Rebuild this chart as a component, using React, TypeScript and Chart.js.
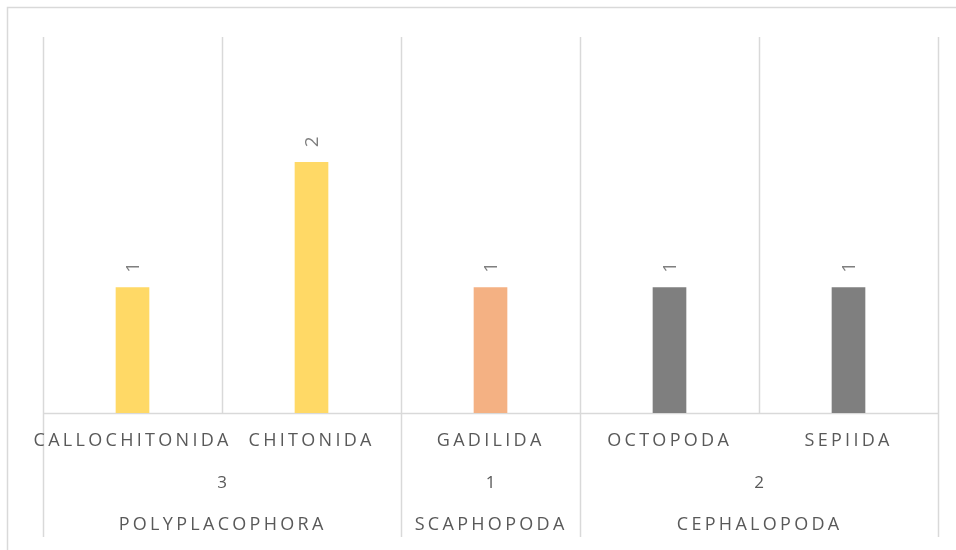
import React, { useEffect, useRef } from "react";
import { Chart, registerables } from "chart.js";

Chart.register(...registerables);

const orders = ["CALLOCHITONIDA", "CHITONIDA", "GADILIDA", "OCTOPODA", "SEPIIDA"];
const counts = [1, 2, 1, 1, 1];
const classNames = ["POLYPLACOPHORA", "SCAPHOPODA", "CEPHALOPODA"];
const classTotals = ["3", "1", "2"];
const classSizes = [2, 1, 2];
const classColors = ["#FFD966", "#F4B183", "#7F7F7F"];

const W = 956;
const H = 550;

export default function App() {
  const ref = useRef<HTMLCanvasElement | null>(null);

  useEffect(() => {
    document.documentElement.style.overflow = "hidden";
    const canvas = ref.current!;
    const barColors: string[] = [];
    classSizes.forEach((n, gi) => {
      for (let k = 0; k < n; k++) barColors.push(classColors[gi]);
    });

    const gridColor = "#d9d9d9";
    const textColor = "#595959";
    const font = '"Open Sans", sans-serif';
    const spacing = 3.3;

    const decor = {
      id: "decor",
      beforeDraw(chart: any) {
        const ctx = chart.ctx as CanvasRenderingContext2D;
        const area = chart.chartArea;
        const xs = chart.scales.x;
        ctx.save();
        ctx.fillStyle = "#ffffff";
        ctx.fillRect(0, 0, W, H);
        // outer border (top & left visible)
        ctx.strokeStyle = gridColor;
        ctx.lineWidth = 1.5;
        ctx.beginPath();
        ctx.moveTo(7.5, H);
        ctx.lineTo(7.5, 7.5);
        ctx.lineTo(W, 7.5);
        ctx.stroke();

        // category boundaries
        const n = orders.length;
        const bounds: number[] = [];
        for (let i = 0; i <= n; i++) {
          if (i === 0) bounds.push(area.left);
          else if (i === n) bounds.push(area.right);
          else bounds.push((xs.getPixelForValue(i - 1) + xs.getPixelForValue(i)) / 2);
        }
        const groupEdges = new Set<number>();
        let acc = 0;
        groupEdges.add(0);
        classSizes.forEach((s) => {
          acc += s;
          groupEdges.add(acc);
        });
        const longBottom = 537;
        bounds.forEach((bx, i) => {
          const x = Math.round(bx) + 0.5;
          ctx.beginPath();
          ctx.moveTo(x, area.top);
          ctx.lineTo(x, groupEdges.has(i) ? longBottom : area.bottom);
          ctx.stroke();
        });
        // baseline
        ctx.beginPath();
        ctx.moveTo(area.left, Math.round(area.bottom) + 0.5);
        ctx.lineTo(area.right, Math.round(area.bottom) + 0.5);
        ctx.stroke();

        // labels
        ctx.fillStyle = textColor;
        ctx.textAlign = "center";
        ctx.textBaseline = "middle";
        ctx.font = `18px ${font}`;
        (ctx as any).letterSpacing = `${spacing}px`;
        orders.forEach((o, i) => {
          ctx.fillText(o, xs.getPixelForValue(i) + spacing / 2 - 1.5, 441);
        });
        let start = 0;
        classSizes.forEach((s, gi) => {
          const cx = (bounds[start] + bounds[start + s]) / 2;
          (ctx as any).letterSpacing = "0px";
          ctx.font = `17px ${font}`;
          ctx.fillText(classTotals[gi], cx, 483);
          (ctx as any).letterSpacing = `${spacing}px`;
          ctx.font = `18px ${font}`;
          ctx.fillText(classNames[gi], cx + spacing / 2 - 1, 525);
          start += s;
        });
        ctx.restore();
      },
      afterDatasetsDraw(chart: any) {
        const ctx = chart.ctx as CanvasRenderingContext2D;
        const meta = chart.getDatasetMeta(0);
        ctx.save();
        ctx.fillStyle = "#7F7F7F";
        ctx.font = `19px ${font}`;
        ctx.textAlign = "left";
        ctx.textBaseline = "middle";
        meta.data.forEach((bar: any, i: number) => {
          ctx.save();
          ctx.translate(bar.x + 1.5, bar.y - 15);
          ctx.rotate(-Math.PI / 2);
          ctx.fillText(String(counts[i]), 0, 0);
          ctx.restore();
        });
        ctx.restore();
      },
    };

    const chart = new Chart(canvas, {
      type: "bar",
      data: {
        labels: orders,
        datasets: [
          {
            data: counts,
            backgroundColor: barColors,
            borderWidth: 0,
            barThickness: 33,
          },
        ],
      },
      options: {
        animation: false,
        responsive: false,
        devicePixelRatio: 1,
        layout: { padding: { left: 43, right: 18, top: 37, bottom: 137 } },
        plugins: { legend: { display: false }, tooltip: { enabled: false } },
        scales: {
          x: { display: false, offset: true },
          y: { display: false, min: 0, max: 3 },
        },
      },
      plugins: [decor],
    });
    return () => chart.destroy();
  }, []);

  return (
    <div style={{ position: "fixed", left: 0, top: 0, width: W, height: H }}>
      <canvas ref={ref} width={W} height={H} style={{ display: "block" }} />
    </div>
  );
}
